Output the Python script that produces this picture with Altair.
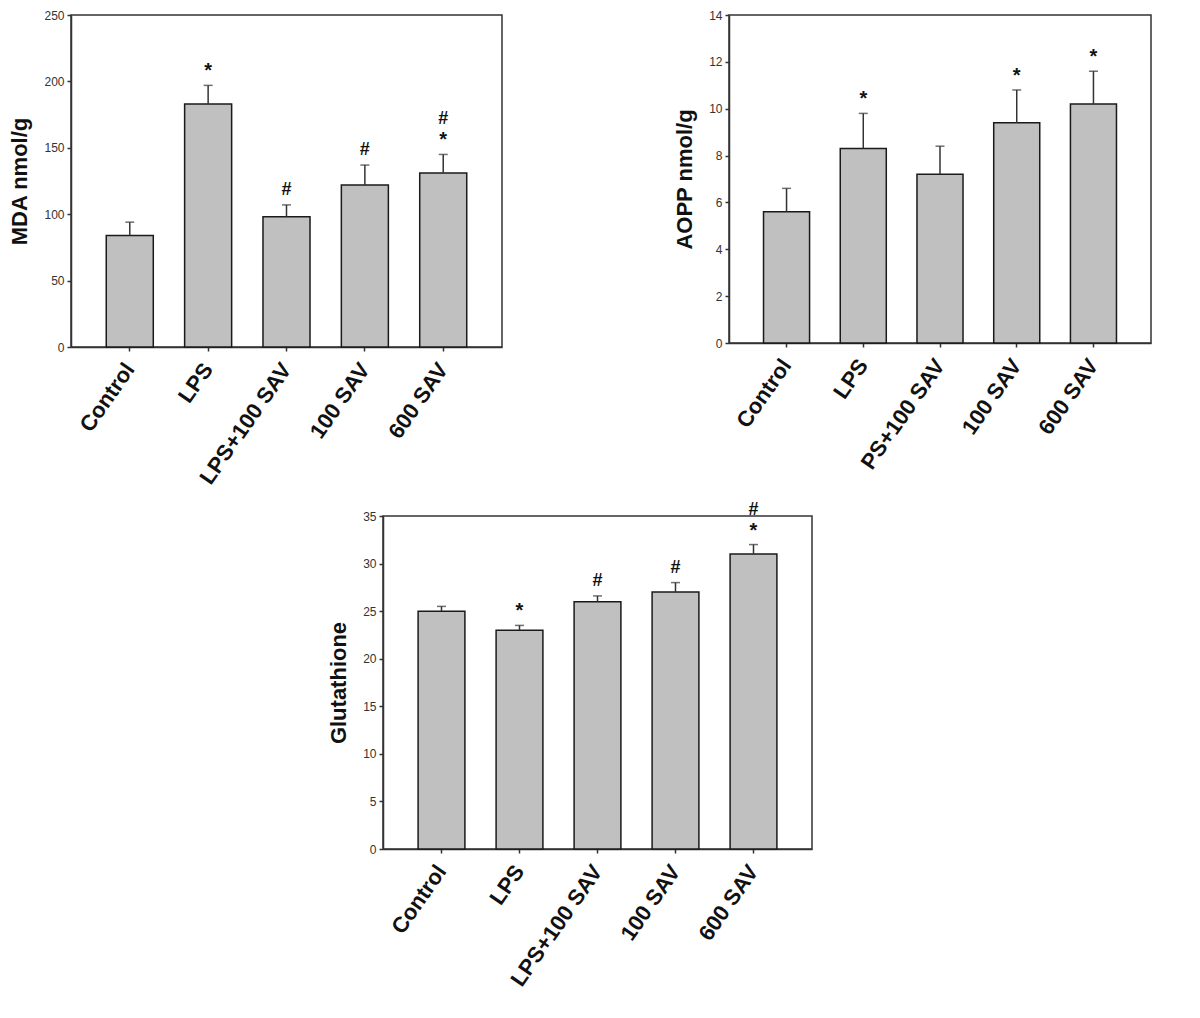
import altair as alt
import pandas as pd

groups_a = ["Control", "LPS", "LPS+100 SAV", "100 SAV", "600 SAV"]
groups_b = ["Control", "LPS", "PS+100 SAV", "100 SAV", "600 SAV"]

mda_mean = [84, 183, 98, 122, 131]
mda_sem = [10, 14, 9, 15, 14]
mda_sig1 = ["", "*", "#", "#", "*"]
mda_sig2 = ["", "", "", "", "#"]

aopp_mean = [5.6, 8.3, 7.2, 9.4, 10.2]
aopp_sem = [1.0, 1.5, 1.2, 1.4, 1.4]
aopp_sig1 = ["", "*", "", "*", "*"]
aopp_sig2 = ["", "", "", "", ""]

gsh_mean = [25, 23, 26, 27, 31]
gsh_sem = [0.5, 0.5, 0.6, 1.0, 1.0]
gsh_sig1 = ["", "*", "#", "#", "*"]
gsh_sig2 = ["", "", "", "", "#"]

FONT = "Liberation Sans"


def panel(groups, means, sems, sig1, sig2, ytitle, ymax, ystep, w, h):
    df = pd.DataFrame({
        "group": groups,
        "mean": means,
        "upper": [m + s for m, s in zip(means, sems)],
        "sig1": sig1,
        "sig2": sig2,
    })
    xaxis = alt.Axis(title=None, labelAngle=-55, labelAlign="right",
                     labelBaseline="middle", labelFontSize=22,
                     labelFontWeight="bold", labelColor="#111",
                     labelPadding=14, tickSize=4, labelFont=FONT)
    x = alt.X("group:N", sort=groups,
              scale=alt.Scale(paddingInner=0.4, paddingOuter=0.45),
              axis=xaxis)
    yscale = alt.Scale(domain=[0, ymax], nice=False, zero=True)
    ticks = [round(v * ystep, 6) for v in range(int(round(ymax / ystep)) + 1)]
    yaxis = alt.Axis(title=ytitle, values=ticks, grid=False, tickSize=4,
                     labelFontSize=12, labelColor="#333", labelFont=FONT,
                     labelPadding=3, titleFont=FONT, titleFontSize=22,
                     titleFontWeight="bold", titleColor="#111",
                     titlePadding=12, format="d")

    def ych(field):
        return alt.Y(field, type="quantitative", scale=yscale, axis=yaxis)

    base = alt.Chart(df).encode(x=x)
    bars = base.mark_bar(color="#c0c0c0", stroke="#1a1a1a",
                         strokeWidth=1.5).encode(y=ych("mean"))
    rule = base.mark_rule(color="#333", strokeWidth=1.5).encode(
        y=ych("mean"), y2="upper:Q")
    cap = base.mark_tick(color="#333", thickness=1.5, size=9).encode(
        y=ych("upper"))
    star1 = base.transform_filter("datum.sig1 == '*'").mark_text(
        dy=-14, fontSize=20, fontWeight="bold", font=FONT, color="#111"
    ).encode(y=ych("upper"), text="sig1:N")
    hash1 = base.transform_filter("datum.sig1 == '#'").mark_text(
        dy=-15, fontSize=18, fontWeight="bold", font=FONT, color="#111"
    ).encode(y=ych("upper"), text="sig1:N")
    hash2 = base.transform_filter("datum.sig2 == '#'").mark_text(
        dy=-35, fontSize=18, fontWeight="bold", font=FONT, color="#111"
    ).encode(y=ych("upper"), text="sig2:N")
    return alt.layer(bars, rule, cap, star1, hash1, hash2).properties(
        width=w, height=h)


p1 = panel(groups_a, mda_mean, mda_sem, mda_sig1, mda_sig2,
           "MDA nmol/g", 250, 50, 431, 332)
p2 = panel(groups_b, aopp_mean, aopp_sem, aopp_sig1, aopp_sig2,
           "AOPP nmol/g", 14, 2, 422, 328)
p3 = panel(groups_a, gsh_mean, gsh_sem, gsh_sig1, gsh_sig2,
           "Glutathione", 35, 5, 429, 333)

spacer = alt.Chart(pd.DataFrame({"a": [0]})).mark_point(opacity=0).encode(
    x=alt.value(0), y=alt.value(0)
).properties(width=1, height=1, view=alt.ViewBackground(strokeOpacity=0))

top = alt.hconcat(p1, p2, spacing=169)
bottom = alt.hconcat(spacer, p3, spacing=252)

chart = alt.vconcat(top, bottom, spacing=10).properties(
    padding={"left": 0, "top": 0, "right": 5, "bottom": 5},
    background="white"
).configure_view(stroke="#333", strokeWidth=1.5).configure_axis(
    domainColor="#333", domainWidth=1.5, tickColor="#333", tickWidth=1.5
)

chart.save("out.html", embed_options={"renderer": "svg", "actions": False})
